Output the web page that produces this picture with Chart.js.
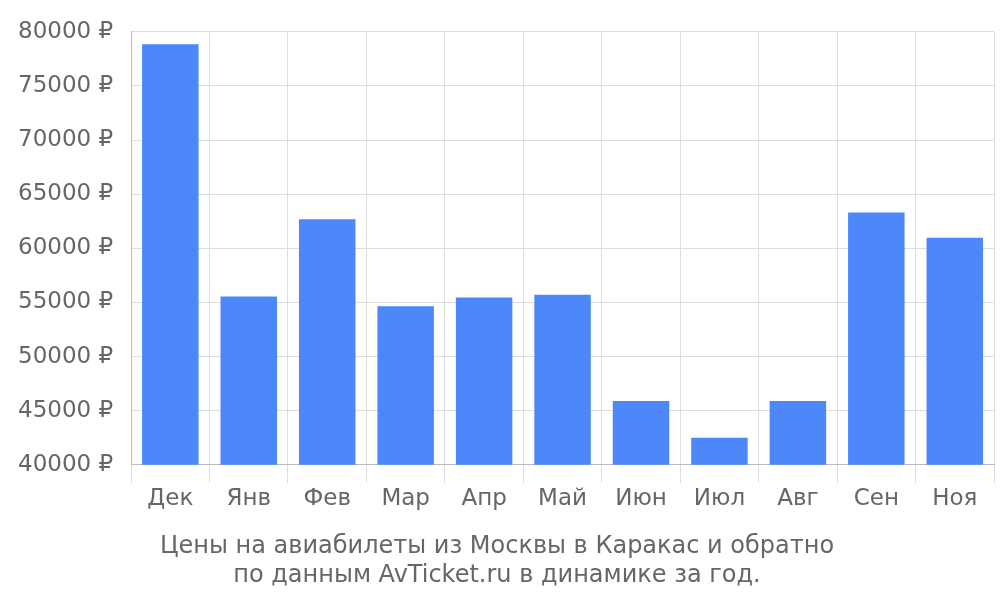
<!DOCTYPE html>
<html>
<head>
<meta charset="utf-8">
<script src="https://cdn.jsdelivr.net/npm/chart.js@4"></script>
<style>
  html, body { margin: 0; padding: 0; background: #fff; }
  #wrap { width: 1000px; height: 600px; }
</style>
</head>
<body>
<div id="wrap"><canvas id="chart"></canvas></div>
<script>
const months = ['Дек', 'Янв', 'Фев', 'Мар', 'Апр', 'Май', 'Июн', 'Июл', 'Авг', 'Сен', 'Ноя'];
const prices = [78850, 55540, 62680, 54640, 55450, 55710, 45890, 42500, 45890, 63300, 60980];
const titleLines = ['Цены на авиабилеты из Москвы в Каракас и обратно', 'по данным AvTicket.ru в динамике за год.'];

Chart.defaults.font.family = 'DejaVu Sans';

const ctx = document.getElementById('chart').getContext('2d');
new Chart(ctx, {
  type: 'bar',
  data: {
    labels: months,
    datasets: [{ data: prices, backgroundColor: '#4d88fb', barPercentage: 0.72, categoryPercentage: 1 }]
  },
  options: {
    responsive: true,
    maintainAspectRatio: false,
    animation: false,
    layout: { padding: { top: -10, right: 6, bottom: 10 } },
    plugins: {
      legend: { display: false },
      tooltip: { enabled: false },
      title: {
        display: true,
        position: 'bottom',
        text: titleLines,
        color: '#666',
        font: { size: 24, weight: 'normal' },
        padding: { top: 18, bottom: 0 },
        lineHeight: 1.1
      }
    },
    scales: {
      x: {
        grid: { color: '#ddd', tickLength: 18, offset: true },
        border: { color: '#bbb' },
        ticks: { color: '#666', font: { size: 23 }, padding: 2 }
      },
      y: {
        min: 40000,
        max: 80000,
        grid: { color: '#ddd', tickLength: 0 },
        border: { color: '#bbb' },
        ticks: {
          stepSize: 5000,
          color: '#666',
          font: { size: 23 },
          padding: 18,
          callback: v => v + ' ₽'
        }
      }
    }
  }
});
</script>
</body>
</html>
